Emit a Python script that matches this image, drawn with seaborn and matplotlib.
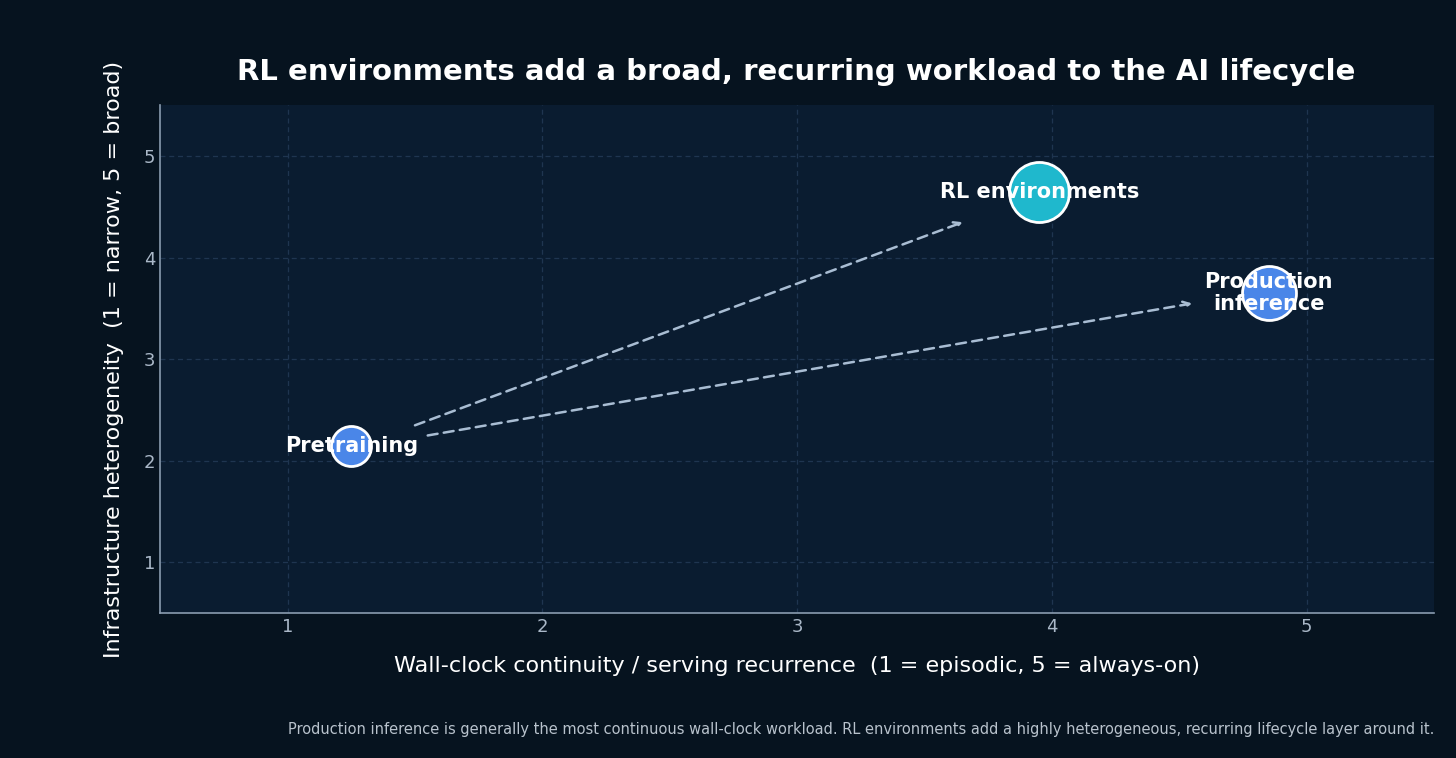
import matplotlib
matplotlib.use("Agg")
import matplotlib.pyplot as plt
import seaborn as sns
import pandas as pd

names = ["Pretraining", "RL environments", "Production\ninference"]
continuity = [1.25, 3.95, 4.85]
heterogeneity = [2.15, 4.65, 3.65]
sizes = [830, 1870, 1510]
colors = ["#4a86e8", "#1fb8cd", "#4a86e8"]
arrow_starts = [(1.50, 2.35), (1.55, 2.25)]
arrow_ends = [(3.65, 4.35), (4.55, 3.55)]

sns.set_theme(style="dark")
plt.rcParams['font.family'] = ['DejaVu Sans']
fig = plt.figure(figsize=(14.56, 7.58), dpi=100, facecolor="#06131f")
ax = fig.add_axes([0.110, 0.191, 0.875, 0.670])
ax.set_facecolor("#0a1c30")

df = pd.DataFrame({"x": continuity, "y": heterogeneity, "n": names})
for i in range(len(df)):
    sns.scatterplot(x=[continuity[i]], y=[heterogeneity[i]], s=sizes[i], color=colors[i],
                    edgecolor="white", linewidth=2, ax=ax, zorder=3, legend=False)
    ax.text(continuity[i], heterogeneity[i], names[i], color="white", fontsize=15,
            fontweight="bold", ha="center", va="center", zorder=4, linespacing=1.1)

for s, e in zip(arrow_starts, arrow_ends):
    ax.annotate("", xy=e, xytext=s, arrowprops=dict(arrowstyle="->", color="#a9bdd3",
                lw=1.8, linestyle=(0, (4, 2.5)), shrinkA=0, shrinkB=0), zorder=2)

ax.set_xlim(0.5, 5.5)
ax.set_ylim(0.5, 5.5)
ax.set_xticks([1, 2, 3, 4, 5])
ax.set_yticks([1, 2, 3, 4, 5])
ax.grid(True, color="#1f3550", linestyle=(0, (4, 3)), linewidth=0.9)
ax.tick_params(colors="#aab8c8", labelsize=13, length=0)
for sp in ["top", "right"]:
    ax.spines[sp].set_visible(False)
for sp in ["left", "bottom"]:
    ax.spines[sp].set_color("#8a9cb0")
    ax.spines[sp].set_linewidth(1.2)
ax.set_xlabel("Wall-clock continuity / serving recurrence  (1 = episodic, 5 = always-on)",
              color="white", fontsize=16, labelpad=14)
ax.set_ylabel("Infrastructure heterogeneity  (1 = narrow, 5 = broad)",
              color="white", fontsize=16, labelpad=14)
fig.text(0.547, 0.905, "RL environments add a broad, recurring workload to the AI lifecycle",
         color="white", fontsize=21, fontweight="bold", ha="center", va="center")
fig.text(0.985, 0.038, "Production inference is generally the most continuous wall-clock workload. "
         "RL environments add a highly heterogeneous, recurring lifecycle layer around it.",
         color="#b8c2cc", fontsize=10.5, ha="right", va="center")
fig.savefig("out.png", dpi=100, facecolor=fig.get_facecolor())
